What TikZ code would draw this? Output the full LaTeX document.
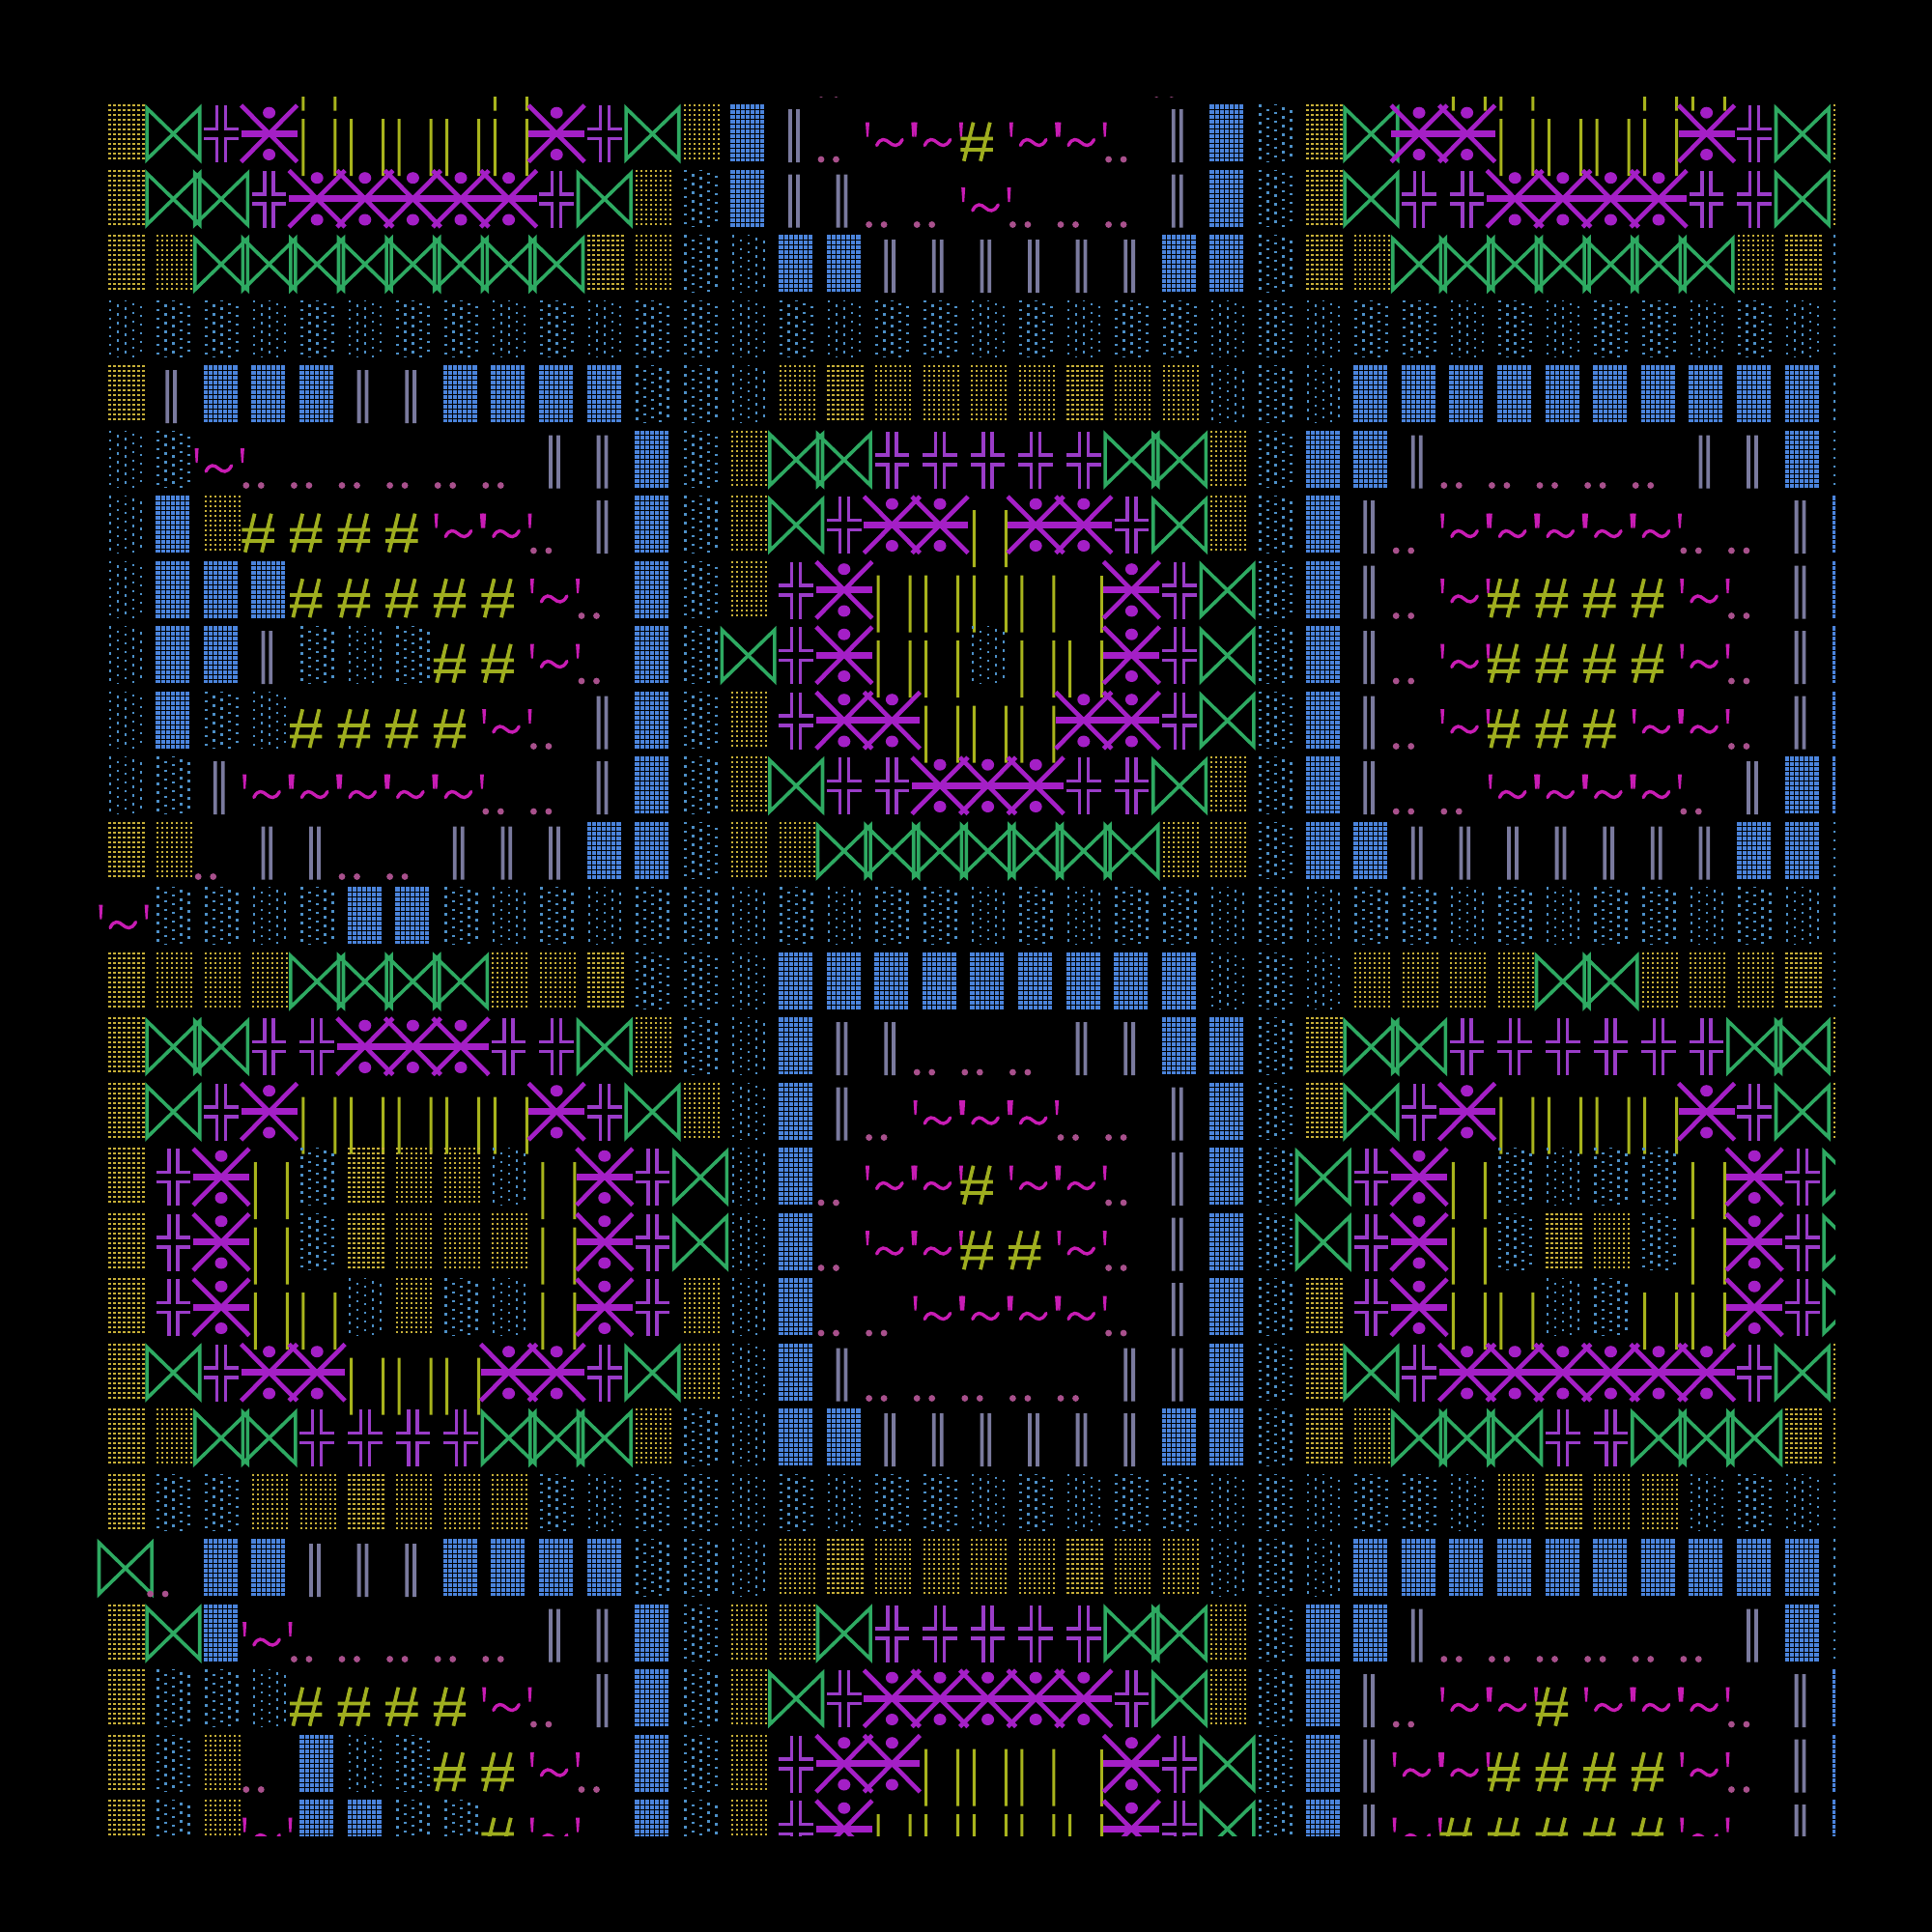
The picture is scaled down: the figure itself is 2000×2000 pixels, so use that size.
\documentclass[tikz,border=0pt]{standalone}
\definecolor{ycol}{HTML}{C8B038}
\definecolor{ccol}{HTML}{4D90C8}
\definecolor{bcol}{HTML}{4B84DC}
\definecolor{gcol}{HTML}{2EAA62}
\definecolor{pcol}{HTML}{9A3CC8}
\definecolor{xcol}{HTML}{A41FC6}
\definecolor{lcol}{HTML}{A8B41C}
\definecolor{hcol}{HTML}{7A7A9E}
\definecolor{scol}{HTML}{9FAE1F}
\definecolor{tcol}{HTML}{C81CB4}
\definecolor{dcol}{HTML}{A8508C}
\tikzset{
 ydots/.style={draw=ycol,line width=2.2pt,dash pattern=on 2.2pt off 2.8pt},
 cdots/.style={draw=ccol,line width=2.6pt,dash pattern=on 2.6pt off 6.4pt},
 bgrid/.style={draw=black,line width=0.9pt},
 bowtie/.style={draw=gcol,line width=3.6pt,line join=miter},
 dcross/.style={draw=pcol,line width=3.4pt},
 astx/.style={draw=xcol,line width=4.6pt},
 hashs/.style={draw=scol,line width=3.8pt},
 tild/.style={draw=tcol,line width=3.4pt,line cap=round}
}
\newcount\gcol \newcount\grow
\def\glyphY{\foreach \k in {0,...,7}{\draw[ydots] (8.5+5*\k,4) -- (8.5+5*\k,63);}}
\def\glyphC{\foreach \k/\ph in {0/0,1/4.5,2/1.5,3/6,4/3}{\draw[cdots,dash phase=\ph pt] (9+8*\k,4) -- (9+8*\k,63);}}
\def\glyphB{\fill[bcol] (6.6,4) rectangle (41.5,63);
 \foreach \k in {1,...,6}{\draw[bgrid] (6.6+5*\k,4) -- (6.6+5*\k,63);}
 \foreach \k in {1,...,11}{\draw[bgrid] (6.6,4+5*\k) -- (41.5,4+5*\k);}}
\def\glyphG{\draw[bowtie] (-2.5,8) -- (-2.5,61) -- (52.1,8) -- (52.1,61) -- cycle;}
\def\glyphP{\draw[dcross] (7,29.5) -- (20.3,29.5) -- (20.3,5) (29.3,5) -- (29.3,29.5) -- (42.6,29.5)
 (7,39.5) -- (20.3,39.5) -- (20.3,64) (29.3,64) -- (29.3,39.5) -- (42.6,39.5);}
\def\glyphX{\draw[astx] (-4.2,5) -- (53.8,63.5) (-4.2,63.5) -- (53.8,5);
 \fill[xcol] (-4.2,30.5) rectangle (53.8,37.5);
 \fill[xcol] (24.8,12.7) ellipse [x radius=6.5pt,y radius=6pt] (24.8,56) ellipse [x radius=6.5pt,y radius=6pt];}
\def\glyphL{\fill[lcol] (9,19) rectangle (12,78) (42,19) rectangle (45,78);}
\def\glyphR{\fill[lcol] (42,19) rectangle (45,78);}
\def\glyphH{\fill[hcol] (16.7,9) rectangle (20.5,64) (24.6,9) rectangle (28.4,64);}
\def\glyphS{\draw[hashs] (9.8,22.7) -- (0,62.7) (27,22.7) -- (17.2,62.7) (-3.4,39.5) -- (30,39.5) (-3.4,51) -- (30,51);}
\def\glyphT{\fill[tcol] (-2.6,22.7) -- (1.4,22.7) -- (0.4,37.7) -- (-1.6,37.7) -- cycle
 (44.7,22.7) -- (48.7,22.7) -- (47.7,37.7) -- (45.7,37.7) -- cycle;
 \draw[tild] (9,46.5) .. controls (13,38) and (18,40) .. (22,43.5) .. controls (26,47) and (31,49) .. (35.5,40.5);}
\def\glyphD{\fill[dcol] (1,61) circle [radius=3.4pt] (16.5,61) circle [radius=3.4pt];}
\def\glyphO{}
\def\placeglyph#1{%
 \pgfmathsetmacro\gx{105+49.6*\the\gcol}%
 \pgfmathsetmacro\gy{104+67.5*\the\grow}%
 \begin{scope}[shift={(\gx,\gy)}]\csname glyph#1\endcsname\end{scope}}
\def\glyphloop#1{\ifx#1\relax\else\placeglyph{#1}\advance\gcol by 1 \expandafter\glyphloop\fi}
\def\glyphrow#1#2{\grow=#1 \gcol=0 \glyphloop#2\relax}
\begin{document}
\begin{tikzpicture}[x=1pt,y=-1pt]
\fill[black] (0,0) rectangle (2000,2000);
\useasboundingbox (0,0) rectangle (2000,2000);
\begin{scope}
\clip (100,100) rectangle (1900,1900);
\glyphrow{-1}{OOOOLOOOLOOOOOODOOOOOODOOOOOLLOOLLOOO}
\glyphrow{0}{YGPXLLLLLXPGYBHDTTSTTDHBCYGXXLLLLXPGY}
\glyphrow{1}{YGGPXXXXXPGYCBHHDDTDDDHBCYGPPXXXXPPGY}
\glyphrow{2}{YYGGGGGGGGYYCCBBHHHHHHBBCYYGGGGGGGYYC}
\glyphrow{3}{CCCCCCCCCCCCCCCCCCCCCCCCCCCCCCCCCCCCC}
\glyphrow{4}{YHBBBHHBBBBCCCYYYYYYYYYCCCBBBBBBBBBBC}
\glyphrow{5}{CCTDDDDDDHHBCYGGPPPPPGGYCBBHDDDDDHHBC}
\glyphrow{6}{CBYSSSSTTDHBCYGPXXLXXPGYCBHDTTTTTDDHB}
\glyphrow{7}{CBBBSSSSSTDBCYPXLLLLRXPGCBHDTSSSSTDHB}
\glyphrow{8}{CBBHCCCSSTDBCGPXLLCLLXPGCBHDTSSSSTDHB}
\glyphrow{9}{CBCCSSSSTDHBCYPXXLLLXXPGCBHDTSSSTTDHB}
\glyphrow{10}{CCHTTTTTDDHBCYGPPXXXPPGYCBHDDTTTTDHBB}
\glyphrow{11}{YYDHHDDHHHBBCYYGGGGGGGYYCBBHHHHHHHBBC}
\glyphrow{12}{TCCCCBBCCCCCCCCCCCCCCCCCCCCCCCCCCCCCC}
\glyphrow{13}{YYYYGGGGYYYCCCBBBBBBBBBCCCYYYYGGYYYYC}
\glyphrow{14}{YGGPPXXXPPGYCCBHHDDDHHBBCYGGPPPPPPGGY}
\glyphrow{15}{YGPXLLLLLXPGYCBHDTTTDDHBCYGPXLLLLXPGY}
\glyphrow{16}{YPXLCYYYCLXPGCBDTTSTTDHBCGPXLCCCCLXPG}
\glyphrow{17}{YPXLCYYYYLXPGCBDTTSSTDHBCGPXLCYYCLXPG}
\glyphrow{18}{YPXLLCYCCLXPYCBDDTTTTDHBCYPXLLCCLLXPG}
\glyphrow{19}{YGPXXLLLXXPGYCBHDDDDDHHBCYGPXXXXXXPGY}
\glyphrow{20}{YYGGPPPPGGGYCCBBHHHHHHBBCYYGGGPPGGGYY}
\glyphrow{21}{YCCYYYYYYCCCCCCCCCCCCCCCCCCCCYYYYCCCC}
\glyphrow{22}{GDBBHHHBBBBCCCYYYYYYYYYCCCBBBBBBBBBBC}
\glyphrow{23}{YGBTDDDDDHHBCYYGPPPPPGGYCBBHDDDDDDHBC}
\glyphrow{24}{YCCCSSSSTDHBCYGPXXXXXPGYCBHDTTSTTTDHB}
\glyphrow{25}{YCYDBCCSSTDBCYPXXLLLRXPGCBHTTSSSSTDHB}
\glyphrow{26}{YCYTBBCCSTOBCYPXLLLLLXPGCBHTSSSSSTOHB}
\end{scope}
\end{tikzpicture}
\end{document}
